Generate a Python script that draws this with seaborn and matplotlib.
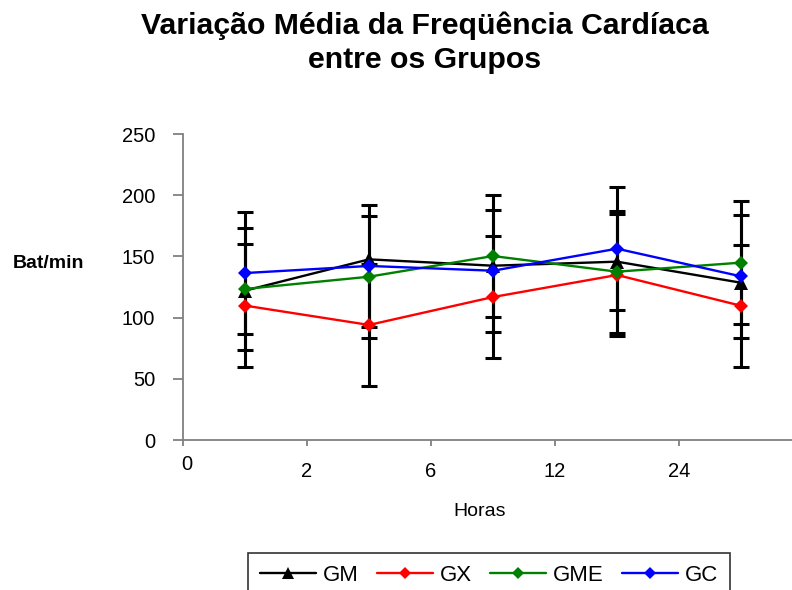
import matplotlib
matplotlib.use("Agg")
import matplotlib.pyplot as plt
import matplotlib.transforms as mtransforms
from matplotlib.lines import Line2D
import seaborn as sns
import pandas as pd

# ---- data ----
hour_labels = ["0", "2", "6", "12", "24"]
positions = [0, 1, 2, 3, 4]
groups = ["GM", "GX", "GME", "GC"]
gm = [122, 147.6, 142.4, 145.7, 128.5]
gx = [109.8, 94.0, 116.8, 134.8, 109.7]
gme = [123.4, 133.4, 150.3, 137.5, 144.9]
gc = [136.4, 142.2, 138.3, 156.3, 133.7]
err_gx = [50, 50, 50, 50, 50]
err_gme = [50, 50, 50, 50, 50]
err_gc = [50, 50, 50, 50, 50]

series = {"GM": gm, "GX": gx, "GME": gme, "GC": gc}
errors = {"GX": err_gx, "GME": err_gme, "GC": err_gc}

df = pd.DataFrame(
    [(positions[i], g, series[g][i]) for g in groups for i in range(len(positions))],
    columns=["pos", "grupo", "bpm"],
)

sns.set_style("white")
plt.rcParams["font.family"] = ["Liberation Sans", "DejaVu Sans"]
plt.rcParams["text.color"] = "black"
plt.rcParams["axes.labelcolor"] = "black"
plt.rcParams["xtick.color"] = "black"
plt.rcParams["ytick.color"] = "black"

fig = plt.figure(figsize=(7.92, 5.90), dpi=100)
ax = fig.add_axes([183 / 792, 1 - 440 / 590, 620 / 792, 306 / 590])

colors = {"GM": "#000000", "GX": "#FF0000", "GME": "#008000", "GC": "#0000FF"}
markers = {"GM": "^", "GX": "D", "GME": "D", "GC": "D"}

# error bars (black), behind lines
for g in ["GX", "GME", "GC"]:
    ax.errorbar(positions, series[g], yerr=errors[g], fmt="none", ecolor="black",
                elinewidth=2.2, capsize=6, capthick=2.2, zorder=1)

sns.lineplot(data=df, x="pos", y="bpm", hue="grupo", style="grupo",
             palette=colors, markers=markers, dashes=False, hue_order=groups,
             style_order=groups, linewidth=1.7, markersize=7,
             markeredgewidth=0, ax=ax, zorder=3, legend=False)
for line in ax.lines:
    if line.get_marker() == "^":
        line.set_markersize(9.5)

ax.set_xlim(-0.5, 4.5)
ax.set_ylim(0, 250)
ax.set_yticks([0, 50, 100, 150, 200, 250])
ax.set_xticks([p - 0.5 for p in positions])
ax.set_xticklabels(hour_labels)

for s in ["top", "right"]:
    ax.spines[s].set_visible(False)
for s in ["left", "bottom"]:
    ax.spines[s].set_color("#808080")
    ax.spines[s].set_linewidth(1.3)

ax.tick_params(axis="y", which="major", direction="out", length=7, width=1.3,
               color="#808080", labelcolor="black", labelsize=14.5, pad=13, left=True)
ax.tick_params(axis="x", which="major", direction="out", length=4.5, width=1.3,
               color="#808080", labelcolor="black", labelsize=14.5, pad=11, bottom=True)

# first x label sits slightly higher/right as in the reference
lbl0 = ax.get_xticklabels()[0]
lbl0.set_transform(lbl0.get_transform() +
                   mtransforms.ScaledTranslation(4 / 100, 7 / 100, fig.dpi_scale_trans))

ax.set_xlabel("Horas", fontsize=14)
ax.xaxis.set_label_coords((480 - 183) / 620, (440 - 511) / 306)
ax.xaxis.label.set_va("center")
ax.set_ylabel("Bat/min", fontsize=14, fontweight="bold", rotation=0)
ax.yaxis.set_label_coords((49 - 183) / 620, (440 - 263) / 306)
ax.yaxis.label.set_va("center")
ax.yaxis.label.set_ha("center")

fig.text(425 / 792, 1 - 43 / 590, "Variação Média da Freqüência Cardíaca\nentre os Grupos",
         ha="center", va="center", fontsize=21.8, fontweight="bold", linespacing=1.25)

# legend
handles = [Line2D([], [], color=colors[g], marker=markers[g], linewidth=1.7,
                  markersize=(8.5 if markers[g] == "^" else 6.5), markeredgewidth=0)
           for g in groups]
leg = fig.legend(handles, groups, loc="upper center", bbox_to_anchor=(489 / 792, 1 - 553 / 590),
                 ncol=4, frameon=True, fancybox=False, fontsize=16, handlelength=2.5,
                 columnspacing=0.85, handletextpad=0.3, borderpad=0.55, borderaxespad=0)
leg.get_frame().set_edgecolor("black")
leg.get_frame().set_linewidth(1.2)

fig.savefig("out.png", dpi=100)
